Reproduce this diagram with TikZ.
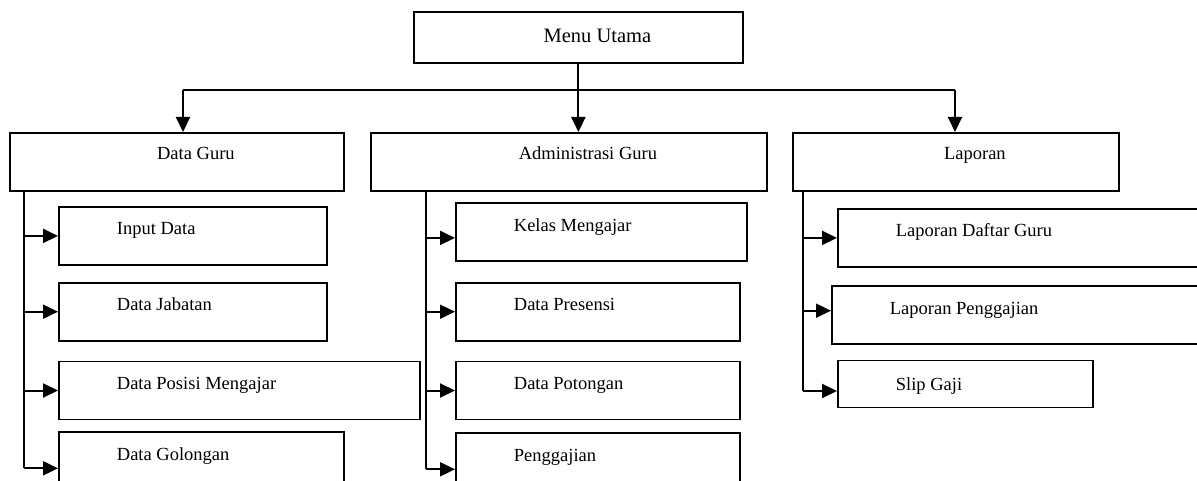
\documentclass[tikz,border=0pt]{standalone}
\usepackage{fontspec}
\setmainfont{Liberation Serif}
\usetikzlibrary{arrows.meta, positioning}
\tikzstyle{headbox} = [rectangle, draw=black, line width=1.8pt, inner sep=0pt, anchor=north west, text height=27pt, text depth=31pt, execute at begin node={\hspace*{38pt}}]
\tikzstyle{subbox} = [rectangle, draw=black, line width=1.8pt, inner ysep=0pt, inner xsep=58pt, align=flush left, anchor=north west, text height=28pt, text depth=30pt]
\tikzstyle{line} = [line width=2pt]
\tikzstyle{arrow} = [line width=2pt, -{Triangle[length=15pt,width=14pt]}]

\begin{document}
\begin{tikzpicture}[x=1pt, y=-1pt, font=\fontsize{18.5}{22}\selectfont]
  \useasboundingbox (0,0) rectangle (1197,481);

  % Top level
  \node (menu) [headbox, minimum width=329pt, text height=31pt, text depth=20pt, font=\fontsize{20.5}{24}\selectfont] at (413,11) {Menu Utama};

  % Second level
  \node (guru) [headbox, minimum width=334pt] at (9,132) {Data Guru};
  \node (admin) [headbox, minimum width=396pt] at (370,132) {Administrasi Guru};
  \node (lap) [headbox, minimum width=326pt] at (792,132) {Laporan};

  % Data Guru submenu
  \node (input) [subbox, text width=152pt] at (58,206) {Input Data};
  \node (jabatan) [subbox, text width=152pt, below=16pt of input.south west, anchor=north west] {Data Jabatan};
  \node (posisi) [subbox, text width=245pt, below=19pt of jabatan.south west, anchor=north west] {Data Posisi Mengajar};
  \node (golongan) [subbox, text width=169pt, text depth=44pt, below=11pt of posisi.south west, anchor=north west] {Data Golongan};

  % Administrasi Guru submenu
  \node (kelas) [subbox, text width=175pt, text height=29pt, text depth=29pt] at (455,202) {Kelas Mengajar};
  \node (presensi) [subbox, text width=168pt, below=20pt of kelas.south west, anchor=north west] {Data Presensi};
  \node (potongan) [subbox, text width=168pt, below=19pt of presensi.south west, anchor=north west] {Data Potongan};
  \node (gaji) [subbox, text width=168pt, text depth=44pt, below=12pt of potongan.south west, anchor=north west] {Penggajian};

  % Laporan submenu
  \node (daftar) [subbox, text width=247pt] at (837,208) {Laporan Daftar Guru};
  \node (lapgaji) [subbox, text width=258pt, text height=29pt, text depth=29pt, below=17pt of daftar.south west, anchor=north west, xshift=-6pt] {Laporan Penggajian};
  \node (slip) [subbox, text width=139pt, text height=30pt, text depth=17pt, below=15pt of lapgaji.south west, anchor=north west, xshift=6pt] {Slip Gaji};

  % Menu Utama to second level
  \coordinate (busL) at (183,90);
  \coordinate (busR) at (955,90);
  \draw [line] (busL) -- (busR);
  \draw [arrow] (busL) -- (busL |- guru.north);
  \draw [arrow] (menu.south) -- (menu.south |- admin.north);
  \draw [arrow] (busR) -- (busR |- lap.north);

  % Spines down the left of each group
  \coordinate (gspine) at ([xshift=15pt]guru.south west);
  \coordinate (aspine) at ([xshift=56pt]admin.south west);
  \coordinate (lspine) at ([xshift=11pt]lap.south west);
  \coordinate (kelasin) at ([yshift=-6pt]kelas.west);
  \coordinate (lapgajiin) at ([yshift=4pt]lapgaji.west);
  \coordinate (slipin) at ([yshift=-7pt]slip.west);

  \draw [line] (gspine) -- (gspine |- golongan.west);
  \draw [arrow] (gspine |- input.west) -- (input.west);
  \draw [arrow] (gspine |- jabatan.west) -- (jabatan.west);
  \draw [arrow] (gspine |- posisi.west) -- (posisi.west);
  \draw [arrow] (gspine |- golongan.west) -- (golongan.west);

  \draw [line] (aspine) -- (aspine |- gaji.west);
  \draw [arrow] (aspine |- kelasin) -- (kelasin);
  \draw [arrow] (aspine |- presensi.west) -- (presensi.west);
  \draw [arrow] (aspine |- potongan.west) -- (potongan.west);
  \draw [arrow] (aspine |- gaji.west) -- (gaji.west);

  \draw [line] (lspine) -- (lspine |- slipin);
  \draw [arrow] (lspine |- daftar.west) -- (daftar.west);
  \draw [arrow] (lspine |- lapgajiin) -- (lapgajiin);
  \draw [arrow] (lspine |- slipin) -- (slipin);

\end{tikzpicture}
\end{document}
